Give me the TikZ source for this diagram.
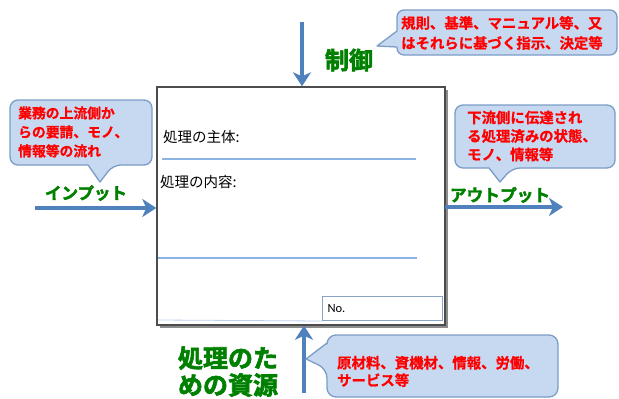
\documentclass[tikz,border=0pt]{standalone}
\usepackage{fontspec}
\newfontfamily\cjk{Noto Sans CJK JP}
\newfontfamily\cjkbold[FakeBold=0.8]{Noto Sans CJK JP Bold}
\newfontfamily\cjkheavy[FakeBold=2.5]{Noto Sans CJK JP Bold}
\newfontfamily\latsans{Carlito}
\usetikzlibrary{arrows.meta}
\definecolor{arrowblue}{HTML}{4F81BD}
\definecolor{callfill}{HTML}{C6D9F1}
\definecolor{calldraw}{HTML}{7B9CC6}
\definecolor{lblgreen}{HTML}{008000}
\definecolor{linblue}{HTML}{8DB3E2}
\definecolor{calltext}{HTML}{FF0000}
\begin{document}
\begin{tikzpicture}[x=1pt,y=-1pt,
  callout/.style={fill=callfill, draw=calldraw, line width=1.3pt, line join=round},
  calltxt/.style={anchor=west, inner sep=0pt, align=left, text=calltext},
  greenlbl/.style={text=lblgreen, inner sep=0pt, align=center},
  arr/.style={draw=arrowblue, line width=4.5pt, -{Stealth[length=14pt,width=18pt,inset=4pt]}},
  boxtxt/.style={anchor=west, inner sep=0pt, font=\cjk\fontsize{14.5}{16}\selectfont},
  rule/.style={draw=linblue, line width=1.2pt},
  nobox/.style={draw=linblue!70!gray, line width=1pt, fill=white, text width=110pt, align=left, inner xsep=5pt, minimum height=24pt, font=\latsans\fontsize{12.5}{14}\selectfont}]
\useasboundingbox (0,0) rectangle (619,399);

% main box with shadow
\fill[black!45] (160,90) rectangle (448,328);
\node (box) [draw=black!70, fill=white, line width=1.4pt, minimum width=288pt, minimum height=238pt, inner sep=0pt] at (301,206) {};
\draw[rule] (162,159) -- (416,159);
\draw[rule] (158,258) -- (417,258);
\node (no) [nobox, anchor=north west] at (322,296) {No.};
\draw[draw=linblue!60, line width=0.8pt] (158,320) -- (no.south west);
\node (shutai) [boxtxt] at (163,137) {処理の主体:};
\node (naiyou) [boxtxt] at (160,182) {処理の内容:};

% arrows
\coordinate (ctrls) at (302,22);
\draw[arr] (ctrls) -- (ctrls |- box.north);
\coordinate (ins) at (35,208);
\draw[arr] (ins) -- (ins -| box.west);
\coordinate (outs) at (445,207);
\coordinate (oute) at (563,207);
\draw[arr] (outs) -- (oute);
\coordinate (ress) at (304,393);
\draw[arr] (ress) -- (ress |- box.south);

% callouts
\path[callout] (377,46) -- (397,31) [rounded corners=7pt] -- (397,10) -- (617,10) -- (617,55) -- (397,55) [sharp corners] -- (397,47) -- cycle;
\path[callout] (100,182) -- (88,165) [rounded corners=8pt] -- (10,165) -- (10,100) -- (152,100) -- (152,165) -- (113,165) [sharp corners] -- cycle;
\path[callout] (500,182) -- (489,168) [rounded corners=8pt] -- (455,168) -- (455,105) -- (615,105) -- (615,168) -- (512,168) [sharp corners] -- cycle;
\path[callout] (306,359) -- (327,343) [rounded corners=9pt] -- (327,335) -- (558,335) -- (558,397) -- (327,397) -- (327,369) [sharp corners] -- cycle;

\node (ctop) [calltxt, font=\cjkbold\fontsize{14.4}{20}\selectfont] at (401,33) {規則、基準、マニュアル等、又\\はそれらに基づく指示、決定等};
\node (cleft) [calltxt, font=\cjkbold\fontsize{13.8}{19}\selectfont] at (18,132) {業務の上流側か\\らの要請、モノ、\\情報等の流れ};
\node (cright) [calltxt, font=\cjkbold\fontsize{14.4}{18.5}\selectfont] at (467,136) {下流側に伝達され\\る処理済みの状態、\\モノ、情報等};
\node (cbot) [calltxt, font=\cjkbold\fontsize{14.4}{17.5}\selectfont] at (337,371.5) {原材料、資機材、情報、労働、\\サービス等};

% green labels
\node (seigyo) [greenlbl, font=\cjkheavy\fontsize{24}{26}\selectfont] at (349,60) {制御};
\node (input) [greenlbl, font=\cjkheavy\fontsize{16.5}{18}\selectfont] at (86,193) {インプット};
\node (output) [greenlbl, font=\cjkheavy\fontsize{16.7}{18}\selectfont] at (500,195) {アウトプット};
\node (shigen) [greenlbl, font=\cjkheavy\fontsize{25}{27}\selectfont] at (228,371.5) {処理のた\\めの資源};
\end{tikzpicture}
\end{document}
